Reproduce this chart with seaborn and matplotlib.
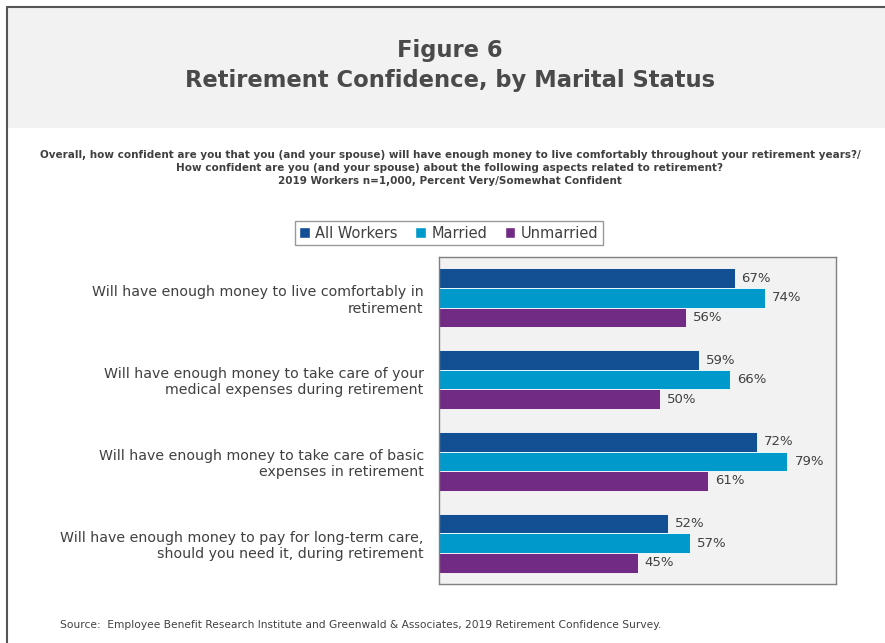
import matplotlib
matplotlib.use("Agg")
import matplotlib.pyplot as plt
import seaborn as sns
import pandas as pd
from matplotlib.patches import Rectangle
from matplotlib.lines import Line2D

categories = [
    "Will have enough money to live comfortably in\nretirement",
    "Will have enough money to take care of your\nmedical expenses during retirement",
    "Will have enough money to take care of basic\nexpenses in retirement",
    "Will have enough money to pay for long-term care,\nshould you need it, during retirement",
]
series = ["All Workers", "Married", "Unmarried"]
all_workers = [67, 59, 72, 52]
married = [74, 66, 79, 57]
unmarried = [56, 50, 61, 45]
colors = ["#124F93", "#0099CC", "#722B85"]

rows = []
for s, vals in zip(series, [all_workers, married, unmarried]):
    for c, v in zip(categories, vals):
        rows.append({"category": c, "series": s, "value": v})
df = pd.DataFrame(rows)

sns.set_theme(style="white")
plt.rcParams["font.family"] = ["DejaVu Sans"]
txt = "#404040"

fig = plt.figure(figsize=(8.85, 6.43), dpi=100)
fig.patch.set_facecolor("white")

# header band and frame
fig.patches.append(Rectangle((7/885, 1-128/643), 1-7/885, 121/643, transform=fig.transFigure,
                             facecolor="#F2F2F2", edgecolor="none", zorder=0))
fig.lines.append(Line2D([7/885, 1], [1-7/643, 1-7/643], transform=fig.transFigure, color="#555555", lw=1.5))
fig.lines.append(Line2D([7/885, 7/885], [0, 1-7/643], transform=fig.transFigure, color="#555555", lw=1.5))

cx = 450/885
fig.text(cx, 1-50/643, "Figure 6", ha="center", va="center", fontsize=16.3, fontweight="bold", color="#4A4A4A")
fig.text(cx, 1-81/643, "Retirement Confidence, by Marital Status", ha="center", va="center",
         fontsize=16.3, fontweight="bold", color="#4A4A4A")

sub = ("Overall, how confident are you that you (and your spouse) will have enough money to live comfortably throughout your retirement years?/\n"
       "How confident are you (and your spouse) about the following aspects related to retirement?\n"
       "2019 Workers n=1,000, Percent Very/Somewhat Confident")
fig.text(cx, 1-168/643, sub, ha="center", va="center", fontsize=7.5, fontweight="bold",
         color=txt, linespacing=1.35)

fig.text(60/885, 1-625/643, "Source:  Employee Benefit Research Institute and Greenwald & Associates, 2019 Retirement Confidence Survey.",
         ha="left", va="center", fontsize=7.7, color=txt)

ax = fig.add_axes([439/885, 1-584/643, 397/885, 327/643])
sns.barplot(data=df, y="category", x="value", hue="series", palette=colors, orient="h",
            width=0.72, ax=ax, edgecolor="white", linewidth=0.6, legend=False, saturation=1)
ax.set_facecolor("#F2F2F2")
ax.set_xlim(0, 90)
ax.set_ylim(3.5, -0.5)
ax.set_xlabel("")
ax.set_ylabel("")
ax.set_xticks([])
ax.tick_params(axis="y", length=0, pad=11, labelsize=10.2, labelcolor=txt)
for lab in ax.get_yticklabels():
    lab.set_horizontalalignment("right")
    lab.set_multialignment("right")
for sp in ax.spines.values():
    sp.set_color("#808080")
    sp.set_linewidth(1)
for cont in ax.containers:
    ax.bar_label(cont, fmt="%d%%", padding=5, fontsize=9.5, color=txt)

handles = [Rectangle((0, 0), 1, 1, facecolor=c) for c in colors]
leg = fig.legend(handles, series, loc="center", bbox_to_anchor=(449/885, 1-233/643), ncol=3,
                 frameon=True, fontsize=10.5, handlelength=0.7, handleheight=0.7, handletextpad=0.4,
                 columnspacing=1.2, borderpad=0.3, borderaxespad=0, fancybox=False)
leg.get_frame().set_edgecolor("#808080")
leg.get_frame().set_linewidth(1)
for t in leg.get_texts():
    t.set_color(txt)

fig.savefig("out.png", dpi=100)
